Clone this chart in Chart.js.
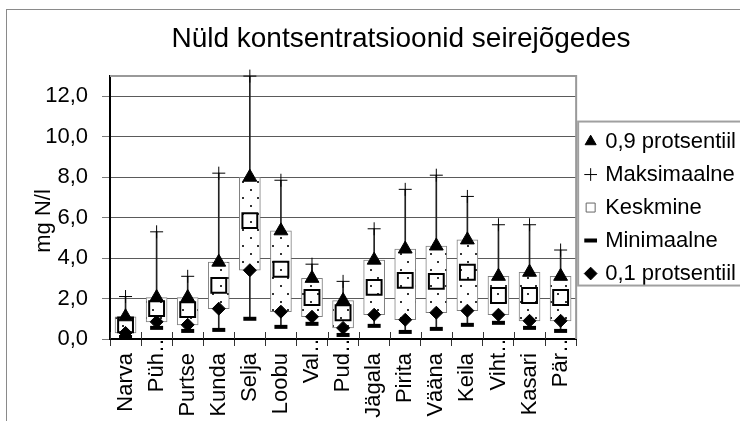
<!DOCTYPE html>
<html><head><meta charset="utf-8">
<script src="https://cdn.jsdelivr.net/npm/chart.js@4.4.1/dist/chart.umd.min.js"></script>
<style>
html,body{margin:0;padding:0;background:#fff;overflow:hidden;width:740px;height:421px;}
#frame{position:absolute;left:6px;top:9px;width:788px;height:440px;border:1px solid #8a8a8a;background:#fff;}
canvas{display:block;}
</style></head><body>
<div id="frame"><canvas id="c" width="788" height="440"></canvas></div>
<script>
const chartTitle = "Nüld kontsentratsioonid seirejõgedes";
const yTitle = "mg N/l";
const categories = ["Narva","Püh…","Purtse","Kunda","Selja","Loobu","Val…","Pud…","Jägala","Pirita","Vääna","Keila","Viht…","Kasari","Pär…"];
const yTicks = [0,2,4,6,8,10,12];
const p90  = [1.1, 2.05, 2.05, 3.8, 8.0, 5.35, 3.0, 1.9, 3.9, 4.45, 4.6, 4.9, 3.1, 3.3, 3.1];
const maxv = [2.1, 5.3, 3.1, 8.2, 13.0, 7.85, 3.7, 2.85, 5.45, 7.4, 8.1, 7.05, 5.65, 5.65, 4.4];
const mean = [0.7, 1.5, 1.45, 2.65, 5.85, 3.45, 2.05, 1.3, 2.55, 2.9, 2.85, 3.3, 2.15, 2.15, 2.05];
const minv = [0.1, 0.55, 0.4, 0.45, 1.0, 0.6, 0.75, 0.2, 0.65, 0.35, 0.5, 0.7, 0.8, 0.55, 0.4];
const p10  = [0.3, 0.85, 0.7, 1.5, 3.4, 1.35, 1.1, 0.55, 1.2, 0.95, 1.3, 1.4, 1.2, 0.9, 0.9];
const legendNames = ["0,9 protsentiil","Maksimaalne","Keskmine","Minimaalne","0,1 protsentiil"];

const FONT = "'Liberation Sans', Arial, sans-serif";
Chart.defaults.font.family = FONT;
Chart.defaults.color = '#000';

const canvas = document.getElementById('c');
const ctx = canvas.getContext('2d');
const tile = document.createElement('canvas');
tile.width = 15; tile.height = 16;
const tg = tile.getContext('2d');
tg.fillStyle = '#fff'; tg.fillRect(0,0,15,16);
tg.fillStyle = '#333'; tg.fillRect(3,3,2,2); tg.fillRect(10,11,2,2);
const pattern = ctx.createPattern(tile, 'repeat');

const framePlugin = {
  id: 'framePlugin',
  afterLayout(chart) {
    const t = chart.titleBlock;
    if (t) { t.left = 0; t.right = chart.width; t.width = chart.width; }
  },
  beforeDatasetsDraw(chart) {
    const {ctx, chartArea: a} = chart;
    const n = categories.length;
    const w = (a.right - a.left) / n;
    ctx.save();
    ctx.strokeStyle = '#333'; ctx.lineWidth = 1;
    ctx.beginPath();
    for (let i = 0; i <= n; i++) {
      const x = Math.round(a.left + i * w) + 0.5;
      ctx.moveTo(x, a.bottom - 7); ctx.lineTo(x, a.bottom);
    }
    ctx.stroke();
    ctx.strokeStyle = '#999'; ctx.lineWidth = 2;
    ctx.beginPath();
    ctx.moveTo(a.left, a.top); ctx.lineTo(a.right, a.top); ctx.lineTo(a.right, a.bottom);
    ctx.stroke();
    ctx.restore();
  },
  afterDraw(chart) {
    const {ctx} = chart;
    ctx.save();
    ctx.translate(43, 211);
    ctx.rotate(-Math.PI / 2);
    ctx.font = "22px " + FONT;
    ctx.fillStyle = '#000';
    ctx.textAlign = 'center';
    ctx.textBaseline = 'alphabetic';
    ctx.fillText(yTitle, 0, 0);
    ctx.restore();
    const hb = chart.legend.legendHitBoxes;
    if (hb && hb.length) {
      const f = hb[0], l = hb[hb.length - 1];
      ctx.save();
      ctx.strokeStyle = '#a0a0a0'; ctx.lineWidth = 2;
      const top = f.top - 9, bottom = l.top + l.height + 1;
      ctx.strokeRect(f.left - 9, top, 400, bottom - top);
      ctx.restore();
    }
  }
};

const pt = (extra) => Object.assign({type: 'line', showLine: false, clip: false, pointHoverRadius: 0}, extra);

new Chart(ctx, {
  type: 'bar',
  data: {
    labels: categories,
    datasets: [
      {label: 'whisker', data: categories.map((_, i) => [minv[i], maxv[i]]), backgroundColor: '#222', borderWidth: 0, barThickness: 1, grouped: false, order: 10},
      {label: 'box', data: categories.map((_, i) => [p10[i], p90[i]]), backgroundColor: pattern, borderColor: '#808080', borderWidth: 1, borderSkipped: false, barThickness: 21, grouped: false, order: 9},
      pt({label: legendNames[0], data: p90, pointStyle: 'triangle', pointRadius: 8, backgroundColor: '#000', borderColor: '#000', borderWidth: 1, order: 1}),
      pt({label: legendNames[1], data: maxv, pointStyle: 'cross', pointRadius: 6.5, backgroundColor: '#000', borderColor: '#000', borderWidth: 1, order: 2}),
      pt({label: legendNames[2], data: mean, pointStyle: 'rect', pointRadius: 10.5, backgroundColor: 'rgba(0,0,0,0)', borderColor: '#000', borderWidth: 2, order: 3}),
      pt({label: legendNames[3], data: minv, pointStyle: 'line', pointRadius: 6.5, backgroundColor: '#000', borderColor: '#000', borderWidth: 4, order: 4}),
      pt({label: legendNames[4], data: p10, pointStyle: 'rectRot', pointRadius: 6.5, backgroundColor: '#000', borderColor: '#000', borderWidth: 1, order: 5})
    ]
  },
  options: {
    responsive: false,
    animation: false,
    devicePixelRatio: 1,
    layout: {padding: {left: 0, right: 49, top: 0, bottom: 0}},
    plugins: {
      tooltip: {enabled: false},
      title: {display: true, text: chartTitle, font: {size: 28, weight: 'normal'}, color: '#000', padding: {top: 12.5, bottom: 20}},
      legend: {
        display: true, position: 'right', align: 'center', fullSize: false,
        labels: {
          usePointStyle: true, boxWidth: 7, boxHeight: 9, padding: 11,
          font: {size: 22}, color: '#000',
          generateLabels(chart) {
            const items = Chart.defaults.plugins.legend.labels.generateLabels(chart).filter(it => legendNames.includes(it.text));
            items.forEach(it => {
              it.fontColor = '#000';
              if (it.text === 'Keskmine') { it.fillStyle = '#fff'; it.strokeStyle = '#666'; it.lineWidth = 1; }
            });
            return items;
          }
        }
      }
    },
    scales: {
      x: {
        offset: true,
        grid: {display: true, drawOnChartArea: false, drawTicks: true, tickLength: 7, color: '#333', offset: true},
        border: {display: true, color: '#000', width: 2},
        ticks: {
          autoSkip: false, minRotation: 90, maxRotation: 90, padding: -15,
          font: {size: 22}, color: '#000',
          callback: (v, i) => categories[i].endsWith('…') ? categories[i] : categories[i] + '\u2003'
        },
        afterFit: s => { s.height = 111; }
      },
      y: {
        min: 0, max: 13,
        afterBuildTicks: s => { s.ticks = yTicks.map(v => ({value: v})); },
        grid: {color: '#5a5a5a', lineWidth: 1, tickColor: '#777', tickLength: 8},
        border: {display: true, color: '#000', width: 2},
        ticks: {padding: 14, font: {size: 22}, color: '#000', callback: v => Number(v).toFixed(1).replace('.', ',')},
        afterFit: s => { s.width = 103; }
      }
    }
  },
  plugins: [framePlugin]
});
</script>
</body></html>
